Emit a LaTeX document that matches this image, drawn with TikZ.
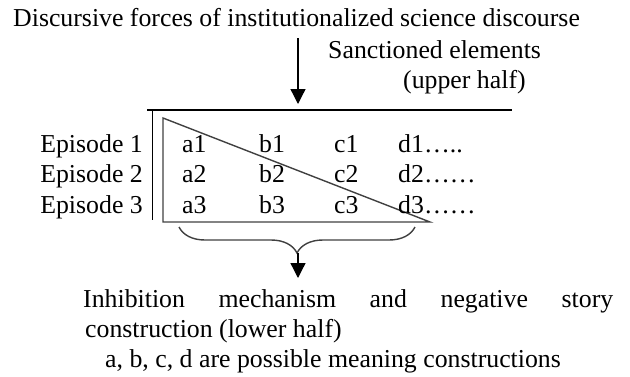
\documentclass[tikz,border=0pt]{standalone}
\usepackage{fontspec}
\setmainfont{Liberation Serif}
\usetikzlibrary{arrows.meta,decorations.pathreplacing}

\begin{document}
\begin{tikzpicture}[
  x=1pt, y=-1pt,
  txt/.style={inner sep=0pt, anchor=base west, font=\fontsize{25.8}{30}\selectfont},
  ep/.style={txt, anchor=base east},
  rule/.style={line width=1.3pt},
  tri/.style={line width=1.4pt, draw=black!75},
  arr/.style={-{Triangle[length=15pt,width=15pt]}, line width=1.3pt},
]
\useasboundingbox (0,0) rectangle (630,376);
% labels above the table
\node[txt] (forces) at (13,26) {Discursive forces of institutionalized science discourse};
\node[txt] (sanct) at (328,58) {Sanctioned elements};
\node[txt] (upper) at (403,88) {(upper half)};
% frame of the table
\coordinate (tl) at (147,110);
\coordinate (tr) at (512,110);
\coordinate (vt) at (152.5,110);
\coordinate (vb) at (152.5,220);
\draw[rule] (tl) -- (tr);
\draw[rule] (vt) -- (vb);
% triangle
\coordinate (t1) at (163,118);
\coordinate (t2) at (163,222);
\coordinate (t3) at (430,222);
\draw[tri] (t1) -- (t2) -- (t3) -- cycle;
% episodes
\foreach \r/\y/\tail in {1/152/{…..}, 2/182/{……}, 3/213/{……}} {
  \node[ep] (ep\r) at (143,\y) {Episode \r};
  \node[txt] (a\r) at (182,\y) {a\r};
  \node[txt] (b\r) at (259,\y) {b\r};
  \node[txt] (c\r) at (334,\y) {c\r};
  \node[txt] (d\r) at (398,\y) {d\r\tail};
}
% arrow from the discourse
\coordinate (src) at (298,38);
\coordinate (hit) at (298,104);
\draw[arr] (src) -- (hit);
% brace under the table
\coordinate (bl) at (179,227);
\coordinate (br) at (415,227);
\draw[tri, decorate, decoration={brace, amplitude=26pt}] (br) -- (bl);
\coordinate (btip) at (298,253);
\coordinate (bend) at (298,278);
\draw[arr] (btip) -- (bend);
% text below
\node[txt] (inh) at (83,307) {\makebox[530pt][s]{Inhibition mechanism and negative story}};
\node[txt] (constr) at (85,337) {construction (lower half)};
\node[txt] (poss) at (105,367) {a, b, c, d are possible meaning constructions};
\end{tikzpicture}
\end{document}
